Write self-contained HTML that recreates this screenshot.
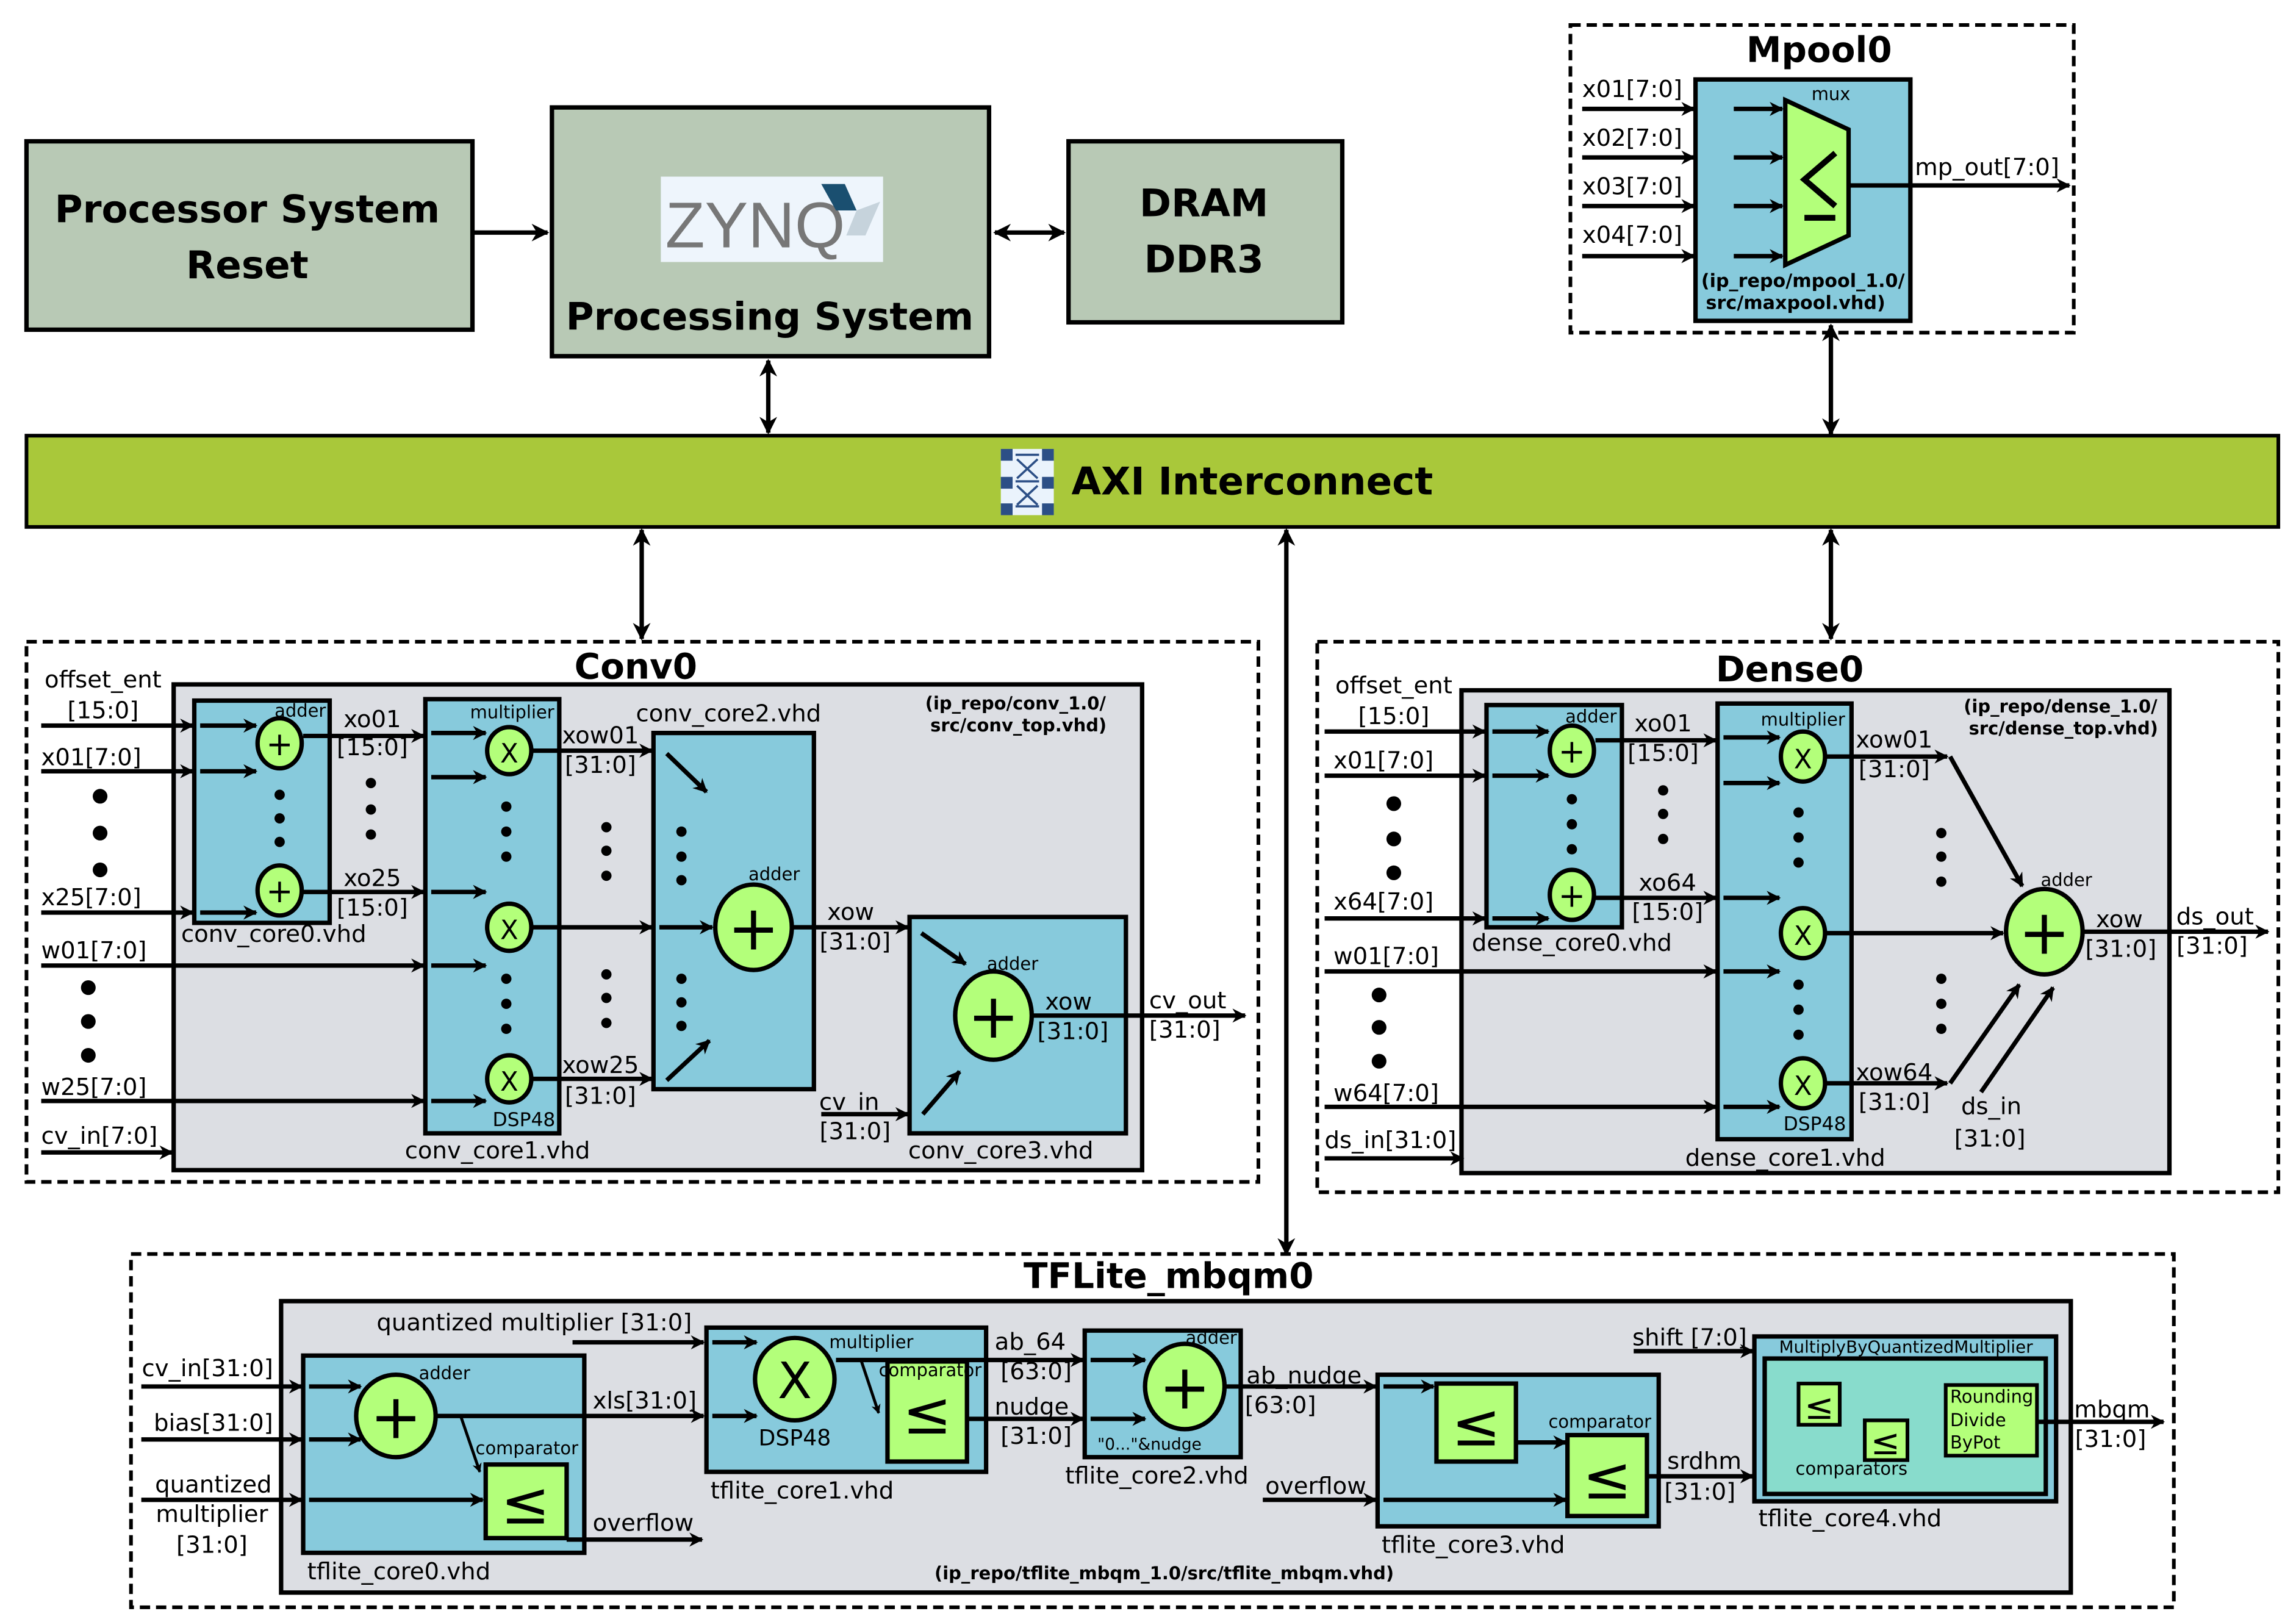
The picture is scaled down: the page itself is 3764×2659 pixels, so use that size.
<!DOCTYPE html>
<html><head><meta charset="utf-8"><style>
html,body{margin:0;padding:0;background:#fff}
svg{display:block}
text{font-family:"DejaVu Sans","Liberation Sans",sans-serif;fill:#000}
.b{font-weight:bold}
.l{font-size:16px}
.s{font-size:12px}
.c{text-anchor:middle}
</style></head><body>
<svg width="3764" height="2659" viewBox="0 0 1560 1102" preserveAspectRatio="none" xmlns="http://www.w3.org/2000/svg">
<defs>
<marker id="a" viewBox="0 0 10 10" refX="9" refY="5" markerWidth="4" markerHeight="4" orient="auto-start-reverse"><path d="M0,0 L10,5 L0,10 L3,5 z" fill="#000"/></marker>
<marker id="A" viewBox="0 0 10 10" refX="9" refY="5" markerWidth="3.2" markerHeight="3.2" orient="auto-start-reverse"><path d="M0,0 L10,5 L0,10 L3,5 z" fill="#000"/></marker>
</defs>
<rect width="1560" height="1102" fill="#fff"/>
<g stroke="#000" stroke-width="3">
<rect x="18" y="96" width="303" height="128" fill="#b8c9b5"/>
<rect x="375" y="73" width="297" height="169" fill="#b8c9b5"/>
<rect x="726" y="96" width="186" height="123" fill="#b8c9b5"/>
<rect x="18" y="296" width="1530" height="62" fill="#a9c83a" stroke-width="2.5"/>
</g>
<rect x="449" y="120" width="151" height="58" fill="#eef5fc"/>
<text x="452" y="168" style="font-size:44px;fill:#777;font-family:'Liberation Sans',sans-serif">ZYNQ</text>
<polygon points="558,125 574,125 582,143 568,143" fill="#1a4f70"/>
<polygon points="582,143 598,137 588,160 575,160" fill="#c6d3dc"/>
<g class="b" style="font-size:26px">
<text x="168" y="151" class="c b">Processor  System</text>
<text x="168" y="189" class="c b">Reset</text>
<text x="523" y="224" class="c b">Processing System</text>
<text x="818" y="147" class="c b">DRAM</text>
<text x="818" y="185" class="c b">DDR3</text>
<text x="728" y="336" class="b">AXI Interconnect</text>
<text x="1236" y="42" class="c b" style="font-size:24px">Mpool0</text>
<text x="432" y="461" class="c b" style="font-size:24px">Conv0</text>
<text x="1216" y="463" class="c b" style="font-size:24px">Dense0</text>
<text x="794" y="875" class="c b" style="font-size:24px">TFLite_mbqm0</text>
</g>
<rect x="680" y="305" width="36" height="45" fill="#eaf3fc"/>
<g fill="#2c4f86"><rect x="680" y="305" width="8" height="8"/><rect x="708" y="305" width="8" height="8"/><rect x="680" y="324" width="8" height="8"/><rect x="708" y="324" width="8" height="8"/><rect x="680" y="342" width="8" height="8"/><rect x="708" y="342" width="8" height="8"/></g>
<g stroke="#2c4f86" stroke-width="1.5"><path d="M690,309H706M690,327H706M690,344H706M691,312L705,325M705,312L691,325M691,330L705,343M705,330L691,343"/></g>
<g stroke="#000" stroke-width="3" fill="none">
<line x1="321" y1="158" x2="372" y2="158" marker-end="url(#a)"/>
<line x1="676" y1="158" x2="723" y2="158" marker-start="url(#a)" marker-end="url(#a)"/>
<line x1="522" y1="245" x2="522" y2="294" marker-start="url(#a)" marker-end="url(#a)"/>
<line x1="1244" y1="221" x2="1244" y2="295" marker-start="url(#a)" marker-end="url(#a)"/>
<line x1="436" y1="360" x2="436" y2="434" marker-start="url(#a)" marker-end="url(#a)"/>
<line x1="874" y1="360" x2="874" y2="852" marker-start="url(#a)" marker-end="url(#a)"/>
<line x1="1244" y1="360" x2="1244" y2="434" marker-start="url(#a)" marker-end="url(#a)"/>
</g>
<g fill="none" stroke="#000" stroke-width="2.5" stroke-dasharray="7,4">
<rect x="1067" y="17" width="342" height="209"/>
<rect x="18" y="436" width="837" height="367"/>
<rect x="895" y="436" width="653" height="374"/>
<rect x="89" y="852" width="1388" height="240"/>
</g>
<rect x="1152" y="54" width="146" height="164" fill="#87cadc" stroke="#000" stroke-width="3"/>
<polygon points="1213,68 1256,88 1256,160 1213,180" fill="#b3ff7a" stroke="#000" stroke-width="3"/>
<path d="M1247,104 L1226,122 L1247,140 M1226,148 L1247,148" stroke="#000" stroke-width="4" fill="none"/>
<text x="1244" y="68" class="c s">mux</text>
<g class="l"><text x="1075" y="66">x01[7:0]</text><text x="1075" y="99">x02[7:0]</text><text x="1075" y="132">x03[7:0]</text><text x="1075" y="165">x04[7:0]</text><text x="1301" y="119">mp_out[7:0]</text></g>
<text x="1225" y="195" class="c b" style="font-size:12.5px">(ip_repo/mpool_1.0/</text>
<text x="1220" y="210" class="c b" style="font-size:12.5px">src/maxpool.vhd)</text>
<g stroke="#000" stroke-width="3" marker-end="url(#A)">
<line x1="1075" y1="74" x2="1151" y2="74"/><line x1="1075" y1="107" x2="1151" y2="107"/><line x1="1075" y1="140" x2="1151" y2="140"/><line x1="1075" y1="174" x2="1151" y2="174"/>
<line x1="1178" y1="74" x2="1211" y2="74"/><line x1="1178" y1="107" x2="1211" y2="107"/><line x1="1178" y1="140" x2="1211" y2="140"/><line x1="1178" y1="174" x2="1211" y2="174"/>
<line x1="1256" y1="126" x2="1406" y2="126"/>
</g>

<rect x="118" y="465" width="658" height="330" fill="#dcdee3" stroke="#000" stroke-width="3"/>
<g fill="#87cadc" stroke="#000" stroke-width="3">
<rect x="132" y="476" width="92" height="151"/><rect x="289" y="475" width="91" height="295"/><rect x="444" y="498" width="109" height="242"/><rect x="618" y="623" width="147" height="147"/>
</g>
<g fill="#b3ff7a" stroke="#000" stroke-width="3">
<ellipse cx="190" cy="505" rx="15" ry="17"/><ellipse cx="190" cy="605" rx="15" ry="17"/>
<ellipse cx="346" cy="510" rx="15" ry="16"/><ellipse cx="346" cy="630" rx="15" ry="16"/><ellipse cx="346" cy="733" rx="15" ry="16"/>
<ellipse cx="512" cy="630" rx="26" ry="29"/><ellipse cx="675" cy="690" rx="26" ry="30"/>
</g>
<g class="c" style="font-size:22px"><text x="190" y="513">+</text><text x="190" y="613">+</text><text x="346" y="518" style="font-size:18px">X</text><text x="346" y="638" style="font-size:18px">X</text><text x="346" y="741" style="font-size:18px">X</text><text x="512" y="645" style="font-size:42px">+</text><text x="675" y="705" style="font-size:42px">+</text></g>
<g fill="#000">
<circle cx="68" cy="541" r="5"/><circle cx="68" cy="566" r="5"/><circle cx="68" cy="591" r="5"/>
<circle cx="60" cy="671" r="5"/><circle cx="60" cy="694" r="5"/><circle cx="60" cy="717" r="5"/>
<circle cx="190" cy="540" r="3.5"/><circle cx="190" cy="556" r="3.5"/><circle cx="190" cy="572" r="3.5"/>
<circle cx="252" cy="532" r="3.5"/><circle cx="252" cy="550" r="3.5"/><circle cx="252" cy="567" r="3.5"/>
<circle cx="344" cy="548" r="3.5"/><circle cx="344" cy="565" r="3.5"/><circle cx="344" cy="582" r="3.5"/>
<circle cx="344" cy="665" r="3.5"/><circle cx="344" cy="682" r="3.5"/><circle cx="344" cy="699" r="3.5"/>
<circle cx="412" cy="562" r="3.5"/><circle cx="412" cy="578" r="3.5"/><circle cx="412" cy="595" r="3.5"/>
<circle cx="412" cy="662" r="3.5"/><circle cx="412" cy="678" r="3.5"/><circle cx="412" cy="695" r="3.5"/>
<circle cx="463" cy="565" r="3.5"/><circle cx="463" cy="582" r="3.5"/><circle cx="463" cy="598" r="3.5"/>
<circle cx="463" cy="665" r="3.5"/><circle cx="463" cy="681" r="3.5"/><circle cx="463" cy="697" r="3.5"/>
</g>
<g class="l">
<text x="70" y="467" class="c">offset_ent</text><text x="70" y="488" class="c">[15:0]</text>
<text x="28" y="520">x01[7:0]</text><text x="28" y="615">x25[7:0]</text><text x="28" y="651">w01[7:0]</text><text x="28" y="744">w25[7:0]</text><text x="28" y="777">cv_in[7:0]</text>
<text x="253" y="494" class="c">xo01</text><text x="253" y="513" class="c">[15:0]</text><text x="253" y="602" class="c">xo25</text><text x="253" y="622" class="c">[15:0]</text>
<text x="186" y="640" class="c">conv_core0.vhd</text><text x="338" y="787" class="c">conv_core1.vhd</text><text x="495" y="490" class="c">conv_core2.vhd</text><text x="680" y="787" class="c">conv_core3.vhd</text>
<text x="408" y="505" class="c">xow01</text><text x="408" y="525" class="c">[31:0]</text><text x="408" y="729" class="c">xow25</text><text x="408" y="750" class="c">[31:0]</text>
<text x="578" y="625" class="c">xow</text><text x="581" y="645" class="c">[31:0]</text>
<text x="726" y="686" class="c">xow</text><text x="729" y="706" class="c">[31:0]</text>
<text x="807" y="685" class="c">cv_out</text><text x="805" y="705" class="c">[31:0]</text>
<text x="577" y="754" class="c">cv_in</text><text x="581" y="774" class="c">[31:0]</text>
</g>
<g class="s"><text x="204" y="487" class="c">adder</text><text x="348" y="488" class="c">multiplier</text><text x="356" y="765" class="c" style="font-size:13px">DSP48</text><text x="526" y="598" class="c">adder</text><text x="688" y="659" class="c">adder</text></g>
<text x="690" y="482" class="c b" style="font-size:12px">(ip_repo/conv_1.0/</text><text x="692" y="497" class="c b" style="font-size:12px">src/conv_top.vhd)</text>
<g stroke="#000" stroke-width="3" marker-end="url(#A)">
<line x1="28" y1="493" x2="131" y2="493"/><line x1="28" y1="524" x2="131" y2="524"/><line x1="28" y1="620" x2="131" y2="620"/>
<line x1="28" y1="656" x2="288" y2="656"/><line x1="28" y1="748" x2="288" y2="748"/><line x1="28" y1="783" x2="117" y2="783"/>
<line x1="136" y1="493" x2="174" y2="493"/><line x1="136" y1="524" x2="174" y2="524"/><line x1="136" y1="620" x2="174" y2="620"/>
<line x1="206" y1="500" x2="288" y2="500"/><line x1="206" y1="606" x2="288" y2="606"/>
<line x1="293" y1="498" x2="330" y2="498"/><line x1="293" y1="528" x2="330" y2="528"/><line x1="293" y1="606" x2="330" y2="606"/><line x1="293" y1="656" x2="330" y2="656"/><line x1="293" y1="748" x2="330" y2="748"/>
<line x1="361" y1="510" x2="443" y2="510"/><line x1="361" y1="630" x2="443" y2="630"/><line x1="361" y1="733" x2="443" y2="733"/>
<line x1="453" y1="512" x2="480" y2="538"/><line x1="453" y1="734" x2="482" y2="707"/><line x1="448" y1="630" x2="484" y2="630"/>
<line x1="539" y1="630" x2="617" y2="630"/>
<line x1="626" y1="634" x2="656" y2="655"/><line x1="627" y1="757" x2="652" y2="728"/><line x1="558" y1="757" x2="617" y2="757"/>
<line x1="702" y1="690" x2="846" y2="690"/>
</g>

<rect x="993" y="469" width="481" height="328" fill="#dcdee3" stroke="#000" stroke-width="3"/>
<g fill="#87cadc" stroke="#000" stroke-width="3"><rect x="1010" y="479" width="92" height="151"/><rect x="1167" y="478" width="91" height="296"/></g>
<g fill="#b3ff7a" stroke="#000" stroke-width="3">
<ellipse cx="1068" cy="510" rx="15" ry="17"/><ellipse cx="1068" cy="608" rx="15" ry="17"/>
<ellipse cx="1225" cy="514" rx="15" ry="17"/><ellipse cx="1225" cy="634" rx="15" ry="17"/><ellipse cx="1225" cy="736" rx="15" ry="17"/>
<ellipse cx="1389" cy="633" rx="26" ry="29"/>
</g>
<g class="c" style="font-size:22px"><text x="1068" y="518">+</text><text x="1068" y="616">+</text><text x="1225" y="522" style="font-size:18px">X</text><text x="1225" y="642" style="font-size:18px">X</text><text x="1225" y="744" style="font-size:18px">X</text><text x="1389" y="648" style="font-size:42px">+</text></g>
<g fill="#000">
<circle cx="947" cy="546" r="5"/><circle cx="947" cy="570" r="5"/><circle cx="947" cy="593" r="5"/>
<circle cx="937" cy="676" r="5"/><circle cx="937" cy="698" r="5"/><circle cx="937" cy="721" r="5"/>
<circle cx="1068" cy="543" r="3.5"/><circle cx="1068" cy="560" r="3.5"/><circle cx="1068" cy="577" r="3.5"/>
<circle cx="1130" cy="537" r="3.5"/><circle cx="1130" cy="553" r="3.5"/><circle cx="1130" cy="570" r="3.5"/>
<circle cx="1222" cy="552" r="3.5"/><circle cx="1222" cy="569" r="3.5"/><circle cx="1222" cy="586" r="3.5"/>
<circle cx="1222" cy="669" r="3.5"/><circle cx="1222" cy="686" r="3.5"/><circle cx="1222" cy="703" r="3.5"/>
<circle cx="1319" cy="566" r="3.5"/><circle cx="1319" cy="582" r="3.5"/><circle cx="1319" cy="599" r="3.5"/>
<circle cx="1319" cy="665" r="3.5"/><circle cx="1319" cy="682" r="3.5"/><circle cx="1319" cy="699" r="3.5"/>
</g>
<g class="l">
<text x="947" y="471" class="c">offset_ent</text><text x="947" y="492" class="c">[15:0]</text>
<text x="906" y="522">x01[7:0]</text><text x="906" y="618">x64[7:0]</text><text x="906" y="655">w01[7:0]</text><text x="906" y="748">w64[7:0]</text><text x="900" y="780">ds_in[31:0]</text>
<text x="1130" y="497" class="c">xo01</text><text x="1130" y="517" class="c">[15:0]</text><text x="1133" y="605" class="c">xo64</text><text x="1133" y="625" class="c">[15:0]</text>
<text x="1068" y="646" class="c">dense_core0.vhd</text><text x="1213" y="792" class="c">dense_core1.vhd</text>
<text x="1287" y="508" class="c">xow01</text><text x="1287" y="528" class="c">[31:0]</text><text x="1287" y="734" class="c">xow64</text><text x="1287" y="754" class="c">[31:0]</text>
<text x="1440" y="630" class="c">xow</text><text x="1441" y="650" class="c">[31:0]</text><text x="1505" y="628" class="c">ds_out</text><text x="1503" y="648" class="c">[31:0]</text>
<text x="1353" y="757" class="c">ds_in</text><text x="1352" y="779" class="c">[31:0]</text>
</g>
<g class="s"><text x="1081" y="491" class="c">adder</text><text x="1225" y="493" class="c">multiplier</text><text x="1233" y="768" class="c" style="font-size:13px">DSP48</text><text x="1404" y="602" class="c">adder</text></g>
<text x="1400" y="484" class="c b" style="font-size:12px">(ip_repo/dense_1.0/</text><text x="1402" y="499" class="c b" style="font-size:12px">src/dense_top.vhd)</text>
<g stroke="#000" stroke-width="3" marker-end="url(#A)">
<line x1="900" y1="497" x2="1009" y2="497"/><line x1="900" y1="527" x2="1009" y2="527"/><line x1="900" y1="624" x2="1009" y2="624"/>
<line x1="900" y1="660" x2="1166" y2="660"/><line x1="900" y1="752" x2="1166" y2="752"/><line x1="900" y1="787" x2="994" y2="787"/>
<line x1="1014" y1="497" x2="1052" y2="497"/><line x1="1014" y1="527" x2="1052" y2="527"/><line x1="1014" y1="624" x2="1052" y2="624"/>
<line x1="1084" y1="503" x2="1166" y2="503"/><line x1="1084" y1="610" x2="1166" y2="610"/>
<line x1="1171" y1="501" x2="1209" y2="501"/><line x1="1171" y1="532" x2="1209" y2="532"/><line x1="1171" y1="610" x2="1209" y2="610"/><line x1="1171" y1="660" x2="1209" y2="660"/><line x1="1171" y1="752" x2="1209" y2="752"/>
<line x1="1240" y1="514" x2="1323" y2="514"/><line x1="1240" y1="736" x2="1323" y2="736"/><line x1="1240" y1="634" x2="1361" y2="634"/>
<line x1="1416" y1="633" x2="1541" y2="633"/>
</g>
<g stroke="#000" stroke-width="3" fill="none">
<line x1="1325" y1="514" x2="1374" y2="602" marker-end="url(#A)"/>
<line x1="1325" y1="736" x2="1372" y2="669" marker-end="url(#A)"/>
<line x1="1346" y1="742" x2="1395" y2="671" marker-end="url(#A)"/>
</g>

<rect x="191" y="884" width="1216" height="198" fill="#dcdee3" stroke="#000" stroke-width="3"/>
<g fill="#87cadc" stroke="#000" stroke-width="3">
<rect x="206" y="921" width="191" height="134"/><rect x="480" y="902" width="190" height="98"/><rect x="737" y="904" width="106" height="86"/><rect x="936" y="934" width="191" height="103"/><rect x="1192" y="908" width="205" height="112"/>
</g>
<rect x="1199" y="923" width="191" height="92" fill="#88dccc" stroke="#000" stroke-width="3"/>
<g fill="#b3ff7a" stroke="#000" stroke-width="3">
<ellipse cx="269" cy="962" rx="27" ry="28"/><ellipse cx="540" cy="937" rx="27" ry="28"/><ellipse cx="805" cy="942" rx="27" ry="29"/>
<rect x="330" y="995" width="55" height="50"/><rect x="603" y="925" width="54" height="68"/><rect x="976" y="940" width="54" height="53"/><rect x="1065" y="975" width="54" height="55"/>
<rect x="1222" y="940" width="28" height="28" stroke-width="2.5"/><rect x="1267" y="965" width="29" height="27" stroke-width="2.5"/><rect x="1322" y="941" width="62" height="48" stroke-width="2.5"/>
</g>
<g class="c">
<text x="269" y="977" style="font-size:42px">+</text><text x="805" y="957" style="font-size:42px">+</text><text x="540" y="950" style="font-size:34px">X</text>
<text x="357" y="1035" style="font-size:40px">≤</text><text x="630" y="974" style="font-size:40px">≤</text><text x="1003" y="982" style="font-size:40px">≤</text><text x="1092" y="1018" style="font-size:40px">≤</text>
<text x="1236" y="964" style="font-size:24px">≤</text><text x="1281" y="988" style="font-size:24px">≤</text>
</g>
<g class="l">
<text x="363" y="904" class="c">quantized multiplier [31:0]</text>
<text x="141" y="935" class="c">cv_in[31:0]</text><text x="145" y="972" class="c">bias[31:0]</text><text x="145" y="1014" class="c">quantized</text><text x="144" y="1034" class="c">multiplier</text><text x="144" y="1055" class="c">[31:0]</text>
<text x="438" y="957" class="c">xls[31:0]</text><text x="437" y="1040" class="c">overflow</text>
<text x="700" y="917" class="c">ab_64</text><text x="704" y="937" class="c">[63:0]</text><text x="701" y="961" class="c">nudge</text><text x="704" y="981" class="c">[31:0]</text>
<text x="886" y="940" class="c">ab_nudge</text><text x="870" y="960" class="c">[63:0]</text><text x="894" y="1015" class="c">overflow</text>
<text x="1158" y="998" class="c">srdhm</text><text x="1155" y="1019" class="c">[31:0]</text><text x="1148" y="914" class="c">shift [7:0]</text>
<text x="1435" y="963" class="c">mbqm</text><text x="1434" y="983" class="c">[31:0]</text>
<text x="271" y="1073" class="c">tflite_core0.vhd</text><text x="545" y="1018" class="c">tflite_core1.vhd</text><text x="786" y="1008" class="c">tflite_core2.vhd</text><text x="1001" y="1055" class="c">tflite_core3.vhd</text><text x="1257" y="1037" class="c">tflite_core4.vhd</text>
<text x="540" y="982" class="c" style="font-size:15px">DSP48</text>
</g>
<g class="s">
<text x="302" y="937" class="c">adder</text><text x="358" y="988" class="c">comparator</text><text x="592" y="916" class="c">multiplier</text><text x="632" y="935" class="c">comparator</text><text x="823" y="913" class="c">adder</text><text x="781" y="985" class="c" style="font-size:11px">"0..."&amp;nudge</text><text x="1087" y="970" class="c">comparator</text>
<text x="1295" y="919" class="c" style="font-size:11.5px">MultiplyByQuantizedMultiplier</text><text x="1258" y="1002" class="c">comparators</text>
<text x="1325" y="953">Rounding</text><text x="1325" y="969">Divide</text><text x="1325" y="984">ByPot</text>
</g>
<text x="791" y="1073" class="c b" style="font-size:12px">(ip_repo/tflite_mbqm_1.0/src/tflite_mbqm.vhd)</text>
<g stroke="#000" stroke-width="3" marker-end="url(#A)">
<line x1="96" y1="942" x2="205" y2="942"/><line x1="96" y1="978" x2="205" y2="978"/><line x1="96" y1="1019" x2="205" y2="1019"/>
<line x1="210" y1="942" x2="245" y2="942"/><line x1="210" y1="978" x2="245" y2="978"/><line x1="210" y1="1019" x2="328" y2="1019"/>
<line x1="297" y1="962" x2="478" y2="962"/><line x1="385" y1="1046" x2="477" y2="1046"/>
<line x1="389" y1="912" x2="478" y2="912"/><line x1="484" y1="912" x2="514" y2="912"/><line x1="484" y1="962" x2="514" y2="962"/>
<line x1="568" y1="924" x2="736" y2="924"/><line x1="657" y1="964" x2="736" y2="964"/>
<line x1="741" y1="924" x2="778" y2="924"/><line x1="741" y1="964" x2="778" y2="964"/>
<line x1="832" y1="942" x2="935" y2="942"/><line x1="940" y1="942" x2="974" y2="942"/>
<line x1="1030" y1="980" x2="1064" y2="980"/><line x1="858" y1="1019" x2="935" y2="1019"/><line x1="940" y1="1019" x2="1064" y2="1019"/>
<line x1="1119" y1="1003" x2="1191" y2="1003"/><line x1="1110" y1="918" x2="1191" y2="918"/>
<line x1="1384" y1="966" x2="1470" y2="966"/>
</g>
<g stroke="#000" stroke-width="2" fill="none">
<line x1="313" y1="962" x2="326" y2="1000" marker-end="url(#A)"/>
<line x1="585" y1="924" x2="597" y2="960" marker-end="url(#A)"/>
</g>
</svg>
</body></html>
